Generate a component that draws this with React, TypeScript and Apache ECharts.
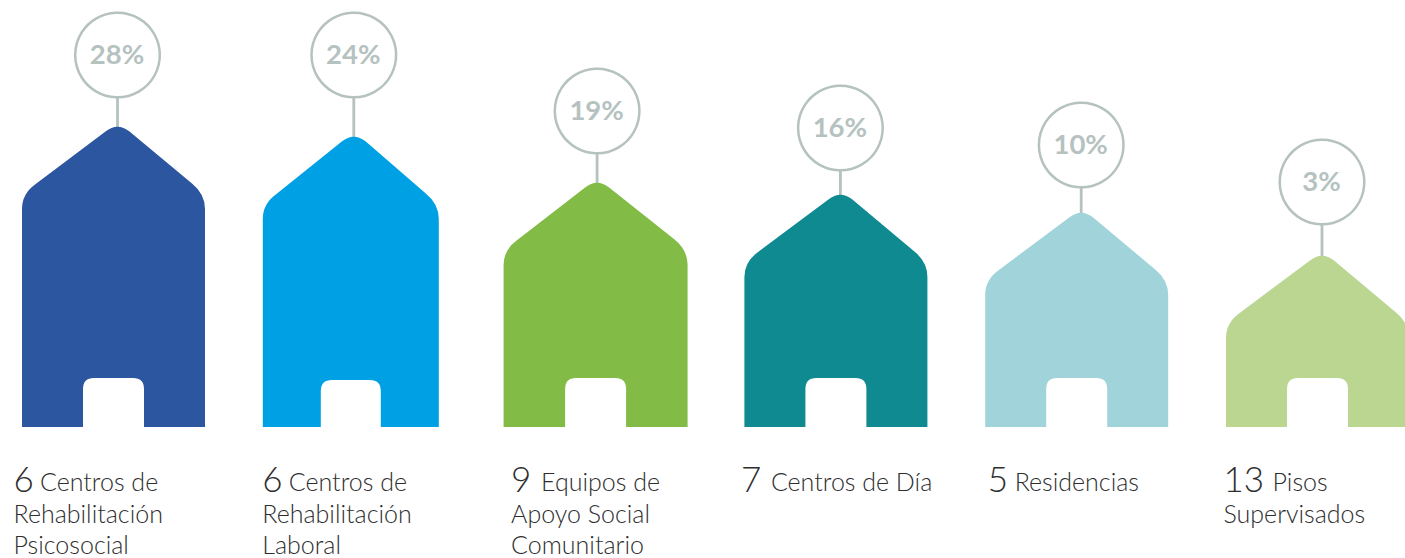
import React, { useEffect, useRef } from "react";
import * as echarts from "echarts";

const categories = ["c1", "c2", "c3", "c4", "c5", "c6"];
const shares = [28, 24, 19, 16, 10, 3];
const houseHeights = [300, 290, 244, 232, 214, 171];
const bubbleLevels = [372, 372, 316, 299, 282, 245];
const counts = [6, 6, 9, 7, 5, 13];
const labelLines = [
  ["Centros de", "Rehabilitación", "Psicosocial"],
  ["Centros de", "Rehabilitación", "Laboral"],
  ["Equipos de", "Apoyo Social", "Comunitario"],
  ["Centros de Día"],
  ["Residencias"],
  ["Pisos", "Supervisados"],
];

const colors = ["#2c56a0", "#00a0e4", "#82bb46", "#0e8a90", "#a0d4da", "#bad690"];
const bodyWidths = [183, 176, 184, 183, 183, 183];
const apexOffsets = [95.5, 91, 93.5, 96, 96, 96];
const doorHeights = [49, 47, 49, 49, 49, 49];
const doorWidths = [61, 60, 61, 61, 61, 61];
const numberOffsets = [-8.5, -0.5, 7.5, -3.5, 2.5, -2.5];
const wordOffsets = [26.5, 26.5, 30, 30, 27, 49];
const GREY = "#b5c2bf";
const INK = "#2e2e2e";
const FONT = "Lato";

function housePath(x0: number, w: number, ax: number, top: number, base: number, dw: number, dh: number) {
  const x1 = x0 + w;
  const vt = top - 5;
  const ys = top + 67;
  const dx0 = x0 + w / 2 - dw / 2;
  const dx1 = dx0 + dw;
  const dt = base - dh;
  return [
    `M${x0} ${base}`,
    `L${x0} ${ys + 15}`,
    `Q${x0} ${ys} ${x0 + 13} ${ys - 9.5}`,
    `L${ax - 12} ${vt + 9.5}`,
    `Q${ax} ${vt} ${ax + 12} ${vt + 9.5}`,
    `L${x1 - 13} ${ys - 10.5}`,
    `Q${x1} ${ys} ${x1} ${ys + 15}`,
    `L${x1} ${base}`,
    `L${dx1} ${base}`,
    `L${dx1} ${dt + 11}`,
    `Q${dx1} ${dt} ${dx1 - 11} ${dt}`,
    `L${dx0 + 11} ${dt}`,
    `Q${dx0} ${dt} ${dx0} ${dt + 11}`,
    `L${dx0} ${base}`,
    "Z",
  ].join(" ");
}

export default function App() {
  const ref = useRef<HTMLDivElement>(null);
  useEffect(() => {
    const chart = echarts.init(ref.current!, null, { renderer: "svg" });
    chart.setOption({
      animation: false,
      backgroundColor: "#ffffff",
      grid: { left: 0, width: 1405, top: 0, height: 427 },
      xAxis: { type: "value", min: -113.5 / 240.8, max: (1405 - 113.5) / 240.8, show: false },
      yAxis: { type: "value", min: 0, max: 427, show: false },
      series: [
        {
          type: "custom",
          clip: false,
          data: categories.map((_, i) => [i, houseHeights[i], bubbleLevels[i], shares[i]]),
          encode: { x: 0, y: 1 },
          renderItem: (params: any, api: any) => {
            const i = params.dataIndex;
            const [cx, top] = api.coord([api.value(0), api.value(1)]);
            const [, base] = api.coord([api.value(0), 0]);
            const [, by] = api.coord([api.value(0), api.value(2)]);
            const w = bodyWidths[i];
            const x0 = cx - 91.5;
            const ax = x0 + apexOffsets[i];
            const r = 42.3;
            const lines = labelLines[i];
            const lx = x0 + numberOffsets[i];
            const children: any[] = [
              {
                type: "line",
                shape: { x1: ax, y1: by + r, x2: ax, y2: top + 1 },
                style: { stroke: GREY, lineWidth: 2.8 },
              },
              {
                type: "path",
                shape: { pathData: housePath(x0, w, ax, top, base, doorWidths[i], doorHeights[i]) },
                style: { fill: colors[i] },
              },
              {
                type: "circle",
                shape: { cx: ax, cy: by, r },
                style: { fill: "#ffffff", stroke: GREY, lineWidth: 2.5 },
              },
              {
                type: "text",
                style: {
                  x: ax - 0.5,
                  y: by - 2,
                  text: `${api.value(3)}%`,
                  align: "center",
                  verticalAlign: "middle",
                  fill: GREY,
                  font: `700 27.5px ${FONT}`,
                },
              },
              {
                type: "text",
                style: {
                  x: lx,
                  y: 478,
                  text: String(counts[i]),
                  align: "left",
                  verticalAlign: "middle",
                  fill: INK,
                  font: `300 35px ${FONT}`,
                },
              },
              {
                type: "text",
                style: {
                  x: lx + wordOffsets[i],
                  y: 481,
                  text: lines[0],
                  align: "left",
                  verticalAlign: "middle",
                  fill: INK,
                  font: `300 25px ${FONT}`,
                },
              },
            ];
            lines.slice(1).forEach((line, k) => {
              children.push({
                type: "text",
                style: {
                  x: lx,
                  y: 513 + k * 31,
                  text: line,
                  align: "left",
                  verticalAlign: "middle",
                  fill: INK,
                  font: `300 25px ${FONT}`,
                },
              });
            });
            return { type: "group", children };
          },
        },
      ],
    });
    return () => chart.dispose();
  }, []);
  return <div ref={ref} style={{ position: "fixed", left: 0, top: 0, width: 1405, height: 558 }} />;
}
